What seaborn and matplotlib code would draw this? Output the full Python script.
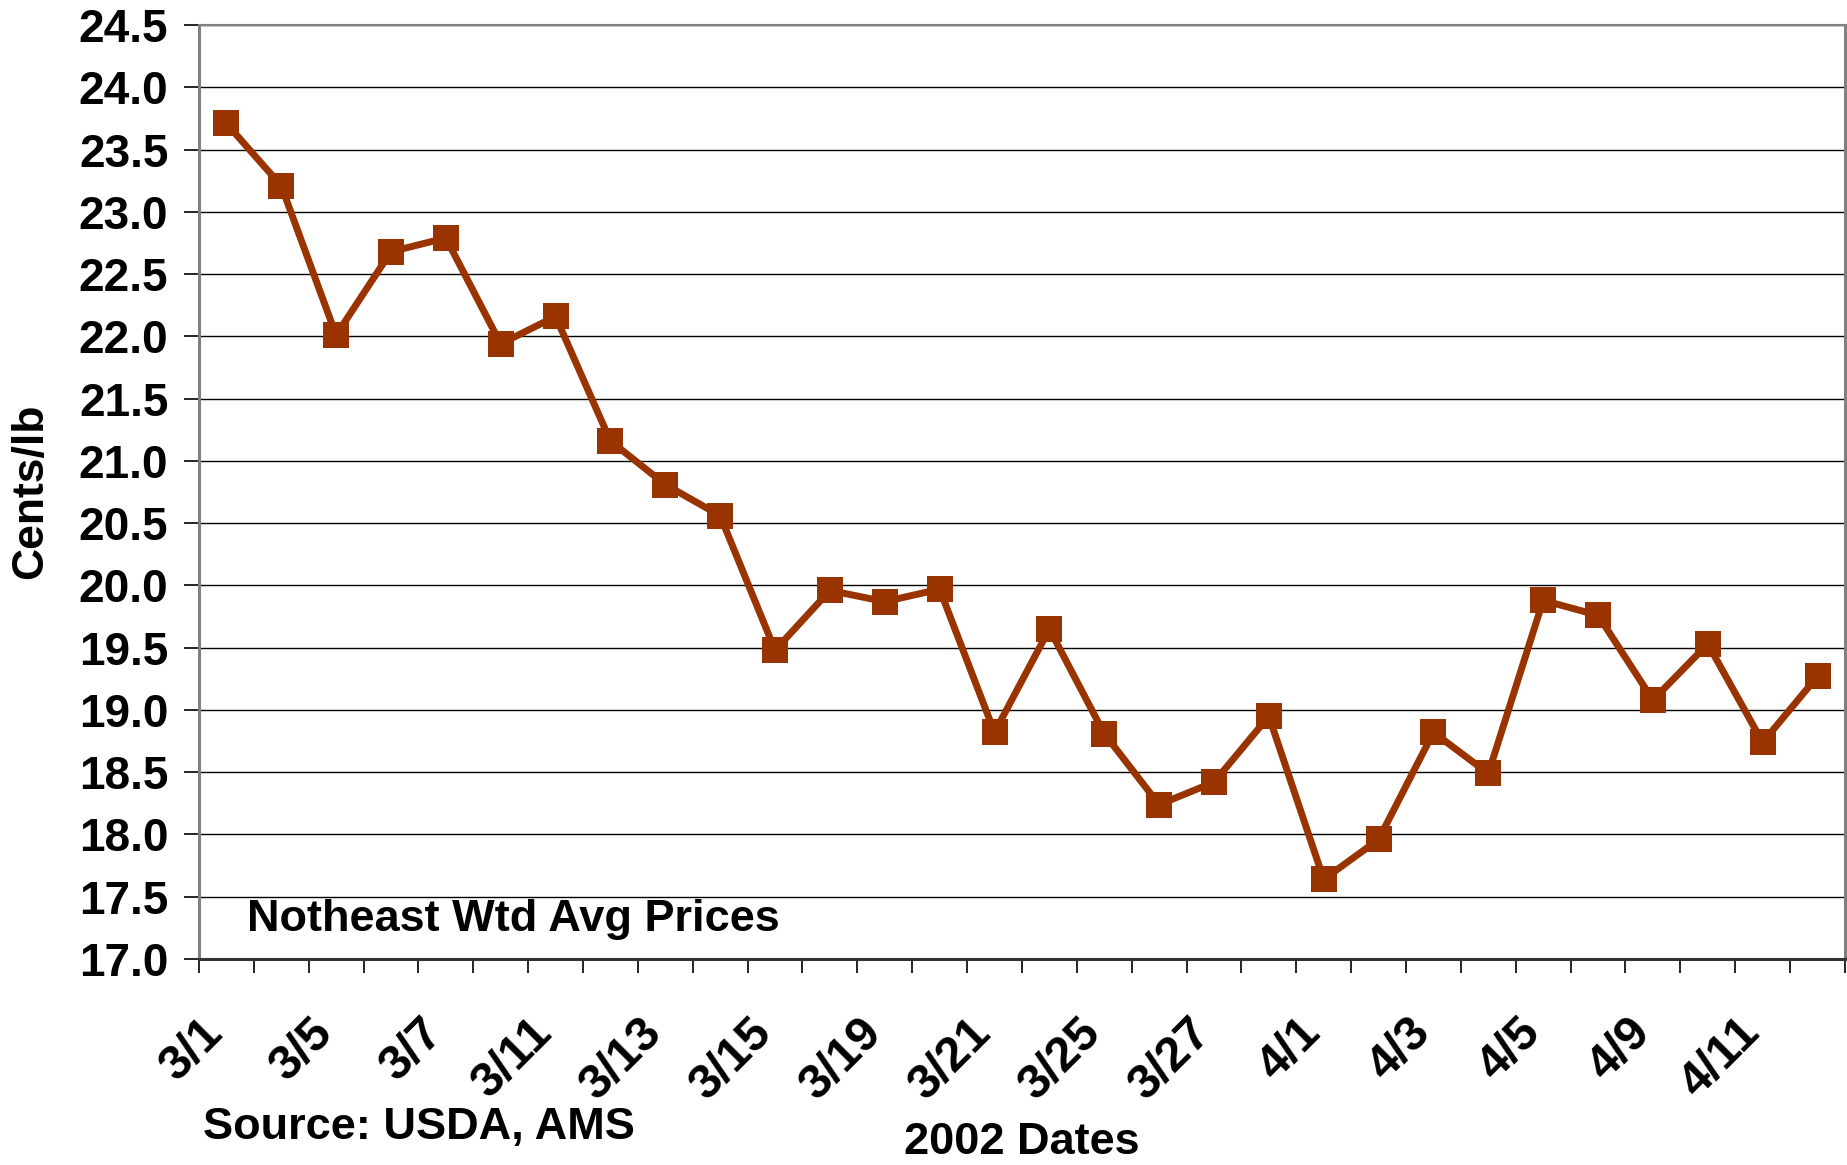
import numpy as np
import pandas as pd
import seaborn as sns
import matplotlib
matplotlib.use("Agg")
import matplotlib.pyplot as plt
import matplotlib.transforms as mtransforms

# 2002 trading days (Mar 1 - Apr 12)
dates = ["3/1", "3/4", "3/5", "3/6", "3/7", "3/8", "3/11", "3/12", "3/13", "3/14",
         "3/15", "3/18", "3/19", "3/20", "3/21", "3/22", "3/25", "3/26", "3/27", "3/28",
         "4/1", "4/2", "4/3", "4/4", "4/5", "4/8", "4/9", "4/10", "4/11", "4/12"]
# Notheast weighted average prices, cents/lb
prices = [23.71, 23.21, 22.01, 22.68, 22.79, 21.94, 22.16, 21.16, 20.81, 20.56,
          19.48, 19.96, 19.87, 19.97, 18.82, 19.65, 18.81, 18.24, 18.42, 18.95,
          17.64, 17.96, 18.82, 18.49, 19.88, 19.76, 19.08, 19.53, 18.74, 19.27]
label_dates = dates[::2]
y_ticks = [17.0, 17.5, 18.0, 18.5, 19.0, 19.5, 20.0, 20.5, 21.0, 21.5,
           22.0, 22.5, 23.0, 23.5, 24.0, 24.5]

LINE_COLOR = "#993300"
FS = 32.5


def set_config():
    sns.set_style("white")
    plt.rcParams["font.family"] = ["Liberation Sans", "DejaVu Sans"]
    plt.rcParams["font.weight"] = "bold"
    for key in ["text.color", "axes.labelcolor", "xtick.color", "ytick.color"]:
        plt.rcParams[key] = "black"


def draw_chart():
    df = pd.DataFrame({"date": dates, "price": prices})
    df["pos"] = range(len(df))

    fig = plt.figure(figsize=(18.47, 11.65), dpi=100)
    ax = fig.add_axes([0.1077, 0.1768, 0.8912, 0.8017])

    ax.yaxis.grid(True, color="black", linewidth=1.0)
    ax.set_axisbelow(True)

    sns.lineplot(data=df, x="pos", y="price", ax=ax, color=LINE_COLOR,
                 linewidth=5, marker="s", markersize=19,
                 markeredgewidth=0, markerfacecolor=LINE_COLOR)

    ax.set_xlim(-0.5, len(dates) - 0.5)
    ax.set_ylim(y_ticks[0], y_ticks[-1])

    # y axis
    ax.set_yticks(y_ticks)
    ax.set_yticklabels([f"{v:.1f}" for v in y_ticks], fontsize=33, fontweight="bold")
    ax.tick_params(axis="y", direction="out", length=11, width=1.2, pad=11,
                   left=True, colors="black")

    # x axis: labels on every other day, tick marks between days
    ax.set_xticks(df["pos"][::2])
    ax.set_xticklabels(label_dates, rotation=45, ha="right", va="center",
                       rotation_mode="anchor", fontsize=35, fontweight="bold")
    ax.tick_params(axis="x", which="major", length=0, pad=48)
    shift = mtransforms.ScaledTranslation(-0.10, 0, fig.dpi_scale_trans)
    for lbl in ax.get_xticklabels():
        lbl.set_transform(lbl.get_transform() + shift)
    ax.set_xticks(np.arange(-0.5, len(dates), 1.0), minor=True)
    ax.tick_params(axis="x", which="minor", direction="out", length=10,
                   width=1.2, bottom=True, color="black")

    ax.set_xlabel("")
    ax.set_ylabel("")

    for side in ["left", "right", "top"]:
        ax.spines[side].set_color("#808080")
        ax.spines[side].set_linewidth(2.2)
    ax.spines["top"].set_linewidth(1.5)
    ax.spines["bottom"].set_color("#333333")
    ax.spines["bottom"].set_linewidth(2.2)

    ax.text(0.029, 0.042, "Notheast Wtd Avg Prices", transform=ax.transAxes,
            fontsize=FS, fontweight="bold", ha="left", va="center")

    fig.text(0.0168, 0.578, "Cents/lb", rotation=90, ha="center", va="center",
             fontsize=32, fontweight="bold")
    fig.text(0.110, 0.032, "Source: USDA, AMS", ha="left", va="center",
             fontsize=FS, fontweight="bold")
    fig.text(0.553, 0.019, "2002 Dates", ha="center", va="center",
             fontsize=FS, fontweight="bold")

    fig.savefig("out.png", dpi=100, facecolor="white")


def main():
    set_config()
    draw_chart()


if __name__ == "__main__":
    main()
